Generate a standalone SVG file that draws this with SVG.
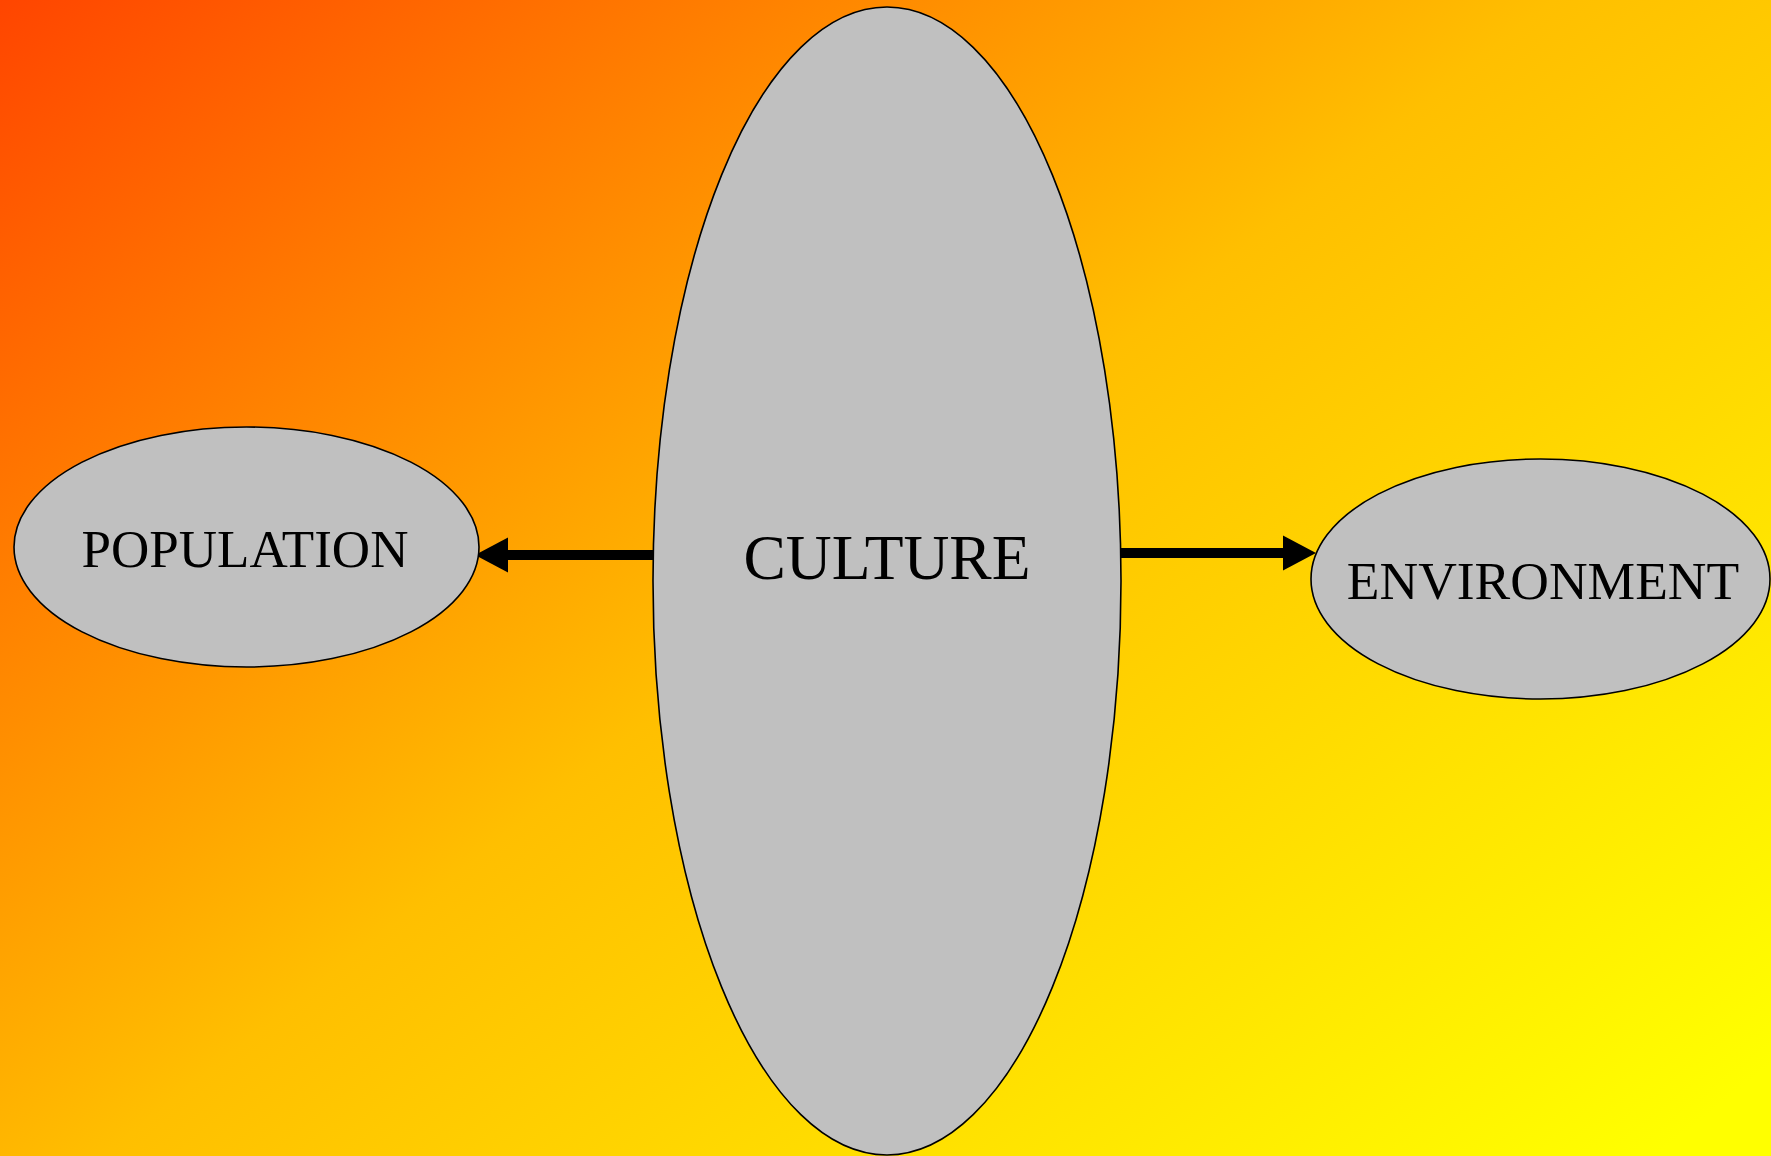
<svg xmlns="http://www.w3.org/2000/svg" width="1771" height="1156" viewBox="0 0 1771 1156">
  <defs>
    <linearGradient id="bg" x1="0" y1="0" x2="1.05" y2="0.86">
      <stop offset="0" stop-color="#FF4500"/>
      <stop offset="0.5" stop-color="#FFBF00"/>
      <stop offset="1" stop-color="#FFFF00"/>
    </linearGradient>
    <marker id="arrow" markerUnits="userSpaceOnUse" markerWidth="34" markerHeight="36" refX="0" refY="17.5" orient="auto" overflow="visible">
      <path d="M0,0 L33,17.5 L0,35 Z" fill="#000"/>
    </marker>
    <style>
      .node { fill: #C0C0C0; stroke: #000; stroke-width: 1.6; }
      .label { font-family: "Liberation Serif", "Times New Roman", serif; fill: #000; text-anchor: middle; }
      .edge { stroke: #000; stroke-width: 10; fill: none; }
      .head { marker-end: url(#arrow); }
    </style>
  </defs>
  <rect x="0" y="0" width="1771" height="1156" fill="url(#bg)"/>
  <g id="edges">
    <line class="edge head" x1="653" y1="555" x2="508" y2="555"/>
    <line class="edge" x1="478" y1="555" x2="472" y2="555"/>
    <line class="edge head" x1="1121" y1="553" x2="1283" y2="553"/>
  </g>
  <g id="node-culture">
    <ellipse class="node" cx="887" cy="581" rx="234" ry="574"/>
    <text class="label" x="887" y="579" font-size="63.5">CULTURE</text>
  </g>
  <g id="node-population">
    <ellipse class="node" cx="246.5" cy="547" rx="232.5" ry="120"/>
    <text class="label" x="245" y="567" font-size="53">POPULATION</text>
  </g>
  <g id="node-environment">
    <ellipse class="node" cx="1540.5" cy="579" rx="229.5" ry="120"/>
    <text class="label" x="1543" y="599" font-size="53.5">ENVIRONMENT</text>
  </g>
</svg>
